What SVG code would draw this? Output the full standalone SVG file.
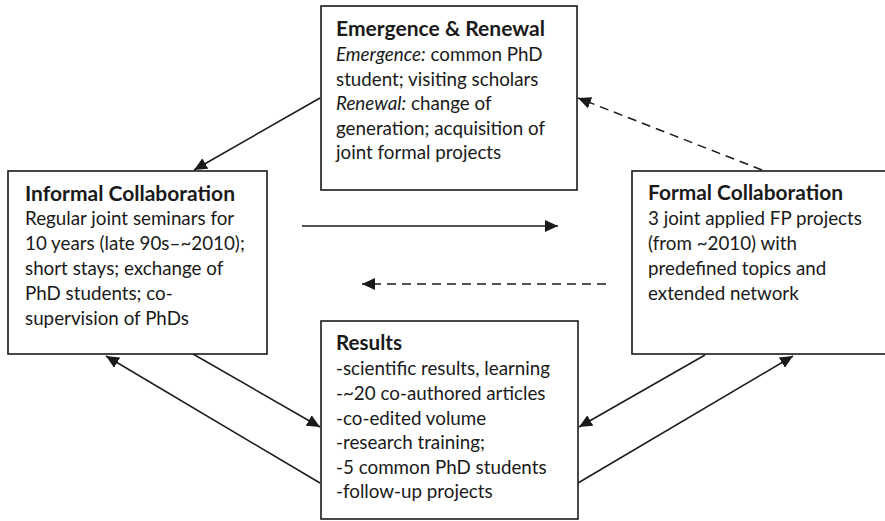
<svg xmlns="http://www.w3.org/2000/svg" width="885" height="521" viewBox="0 0 885 521">
<defs>
<marker id="ah" markerUnits="userSpaceOnUse" markerWidth="14" markerHeight="12" refX="13" refY="6" orient="auto">
<path d="M0,0 L13,6 L0,12 Z" fill="#1a1a1a"/>
</marker>
<style>
.box{fill:#fff;stroke:#1a1a1a;stroke-width:1.6}
.t{font-family:Lato,"Open Sans","Liberation Sans",sans-serif;font-size:18.8px;fill:#1a1a1a}
.b{font-weight:bold;font-size:20px}
.i{font-style:italic}
.c{stroke:#1a1a1a;stroke-width:1.5;fill:none;marker-end:url(#ah)}
.d{stroke-dasharray:9,6}
</style>
</defs>
<rect width="885" height="521" fill="#fff"/>
<g id="connectors">
<line class="c" x1="320" y1="98" x2="194" y2="170"/>
<line class="c d" x1="762" y1="170" x2="578" y2="98"/>
<line class="c" x1="193" y1="354" x2="320" y2="427"/>
<line class="c" x1="320" y1="483" x2="106" y2="356"/>
<line class="c" x1="705" y1="355" x2="579" y2="427"/>
<line class="c" x1="578" y1="483" x2="793" y2="356"/>
<line class="c" x1="302" y1="226" x2="558" y2="226"/>
<line class="c d" x1="606" y1="284" x2="362" y2="284"/>
</g>
<g id="emergence">
<rect class="box" x="321" y="6" width="256" height="184"/>
<text class="t b" x="336" y="36" textLength="209" lengthAdjust="spacingAndGlyphs">Emergence &amp; Renewal</text>
<text class="t"><tspan x="336" y="61"><tspan class="i">Emergence:</tspan> common PhD</tspan><tspan x="336" y="86">student; visiting scholars</tspan><tspan x="336" y="110"><tspan class="i">Renewal:</tspan> change of</tspan><tspan x="336" y="135">generation; acquisition of</tspan><tspan x="336" y="159">joint formal projects</tspan></text>
</g>
<g id="informal">
<rect class="box" x="8" y="171" width="259" height="183"/>
<text class="t b" x="25" y="201" textLength="210" lengthAdjust="spacingAndGlyphs">Informal Collaboration</text>
<text class="t"><tspan x="25" y="225">Regular joint seminars for</tspan><tspan x="25" y="250">10 years (late 90s–~2010);</tspan><tspan x="25" y="275">short stays; exchange of</tspan><tspan x="25" y="300">PhD students; co-</tspan><tspan x="25" y="325">supervision of PhDs</tspan></text>
</g>
<g id="formal">
<rect class="box" x="632" y="171" width="270" height="183"/>
<text class="t b" x="648" y="200" textLength="195" lengthAdjust="spacingAndGlyphs">Formal Collaboration</text>
<text class="t"><tspan x="648" y="225">3 joint applied FP projects</tspan><tspan x="648" y="250">(from ~2010) with</tspan><tspan x="648" y="275">predefined topics and</tspan><tspan x="648" y="300">extended network</tspan></text>
</g>
<g id="results">
<rect class="box" x="321" y="321" width="257" height="198"/>
<text class="t b" x="336" y="350" textLength="66" lengthAdjust="spacingAndGlyphs">Results</text>
<text class="t"><tspan x="336" y="375">-scientific results, learning</tspan><tspan x="336" y="400">-~20 co-authored articles</tspan><tspan x="336" y="425">-co-edited volume</tspan><tspan x="336" y="449">-research training;</tspan><tspan x="336" y="474">-5 common PhD students</tspan><tspan x="336" y="498">-follow-up projects</tspan></text>
</g>
</svg>
